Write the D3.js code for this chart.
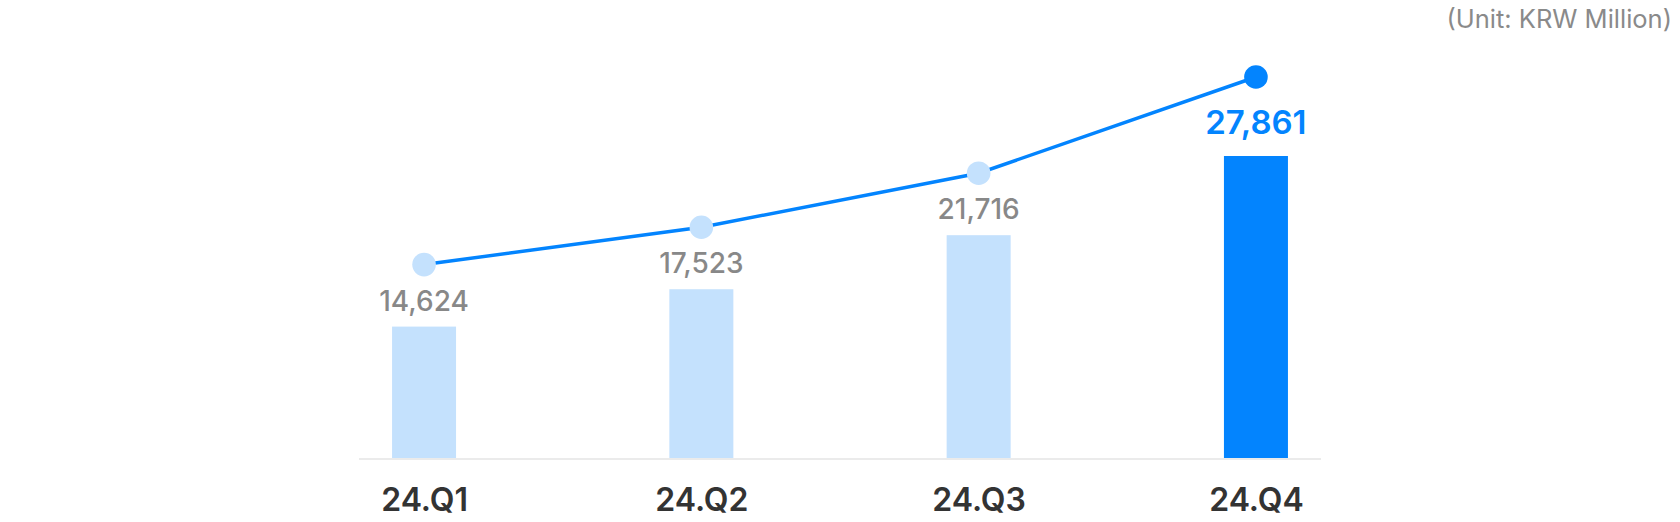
<!DOCTYPE html>
<html>
<head>
<meta charset="utf-8">
<script src="https://cdn.jsdelivr.net/npm/d3@7"></script>
<style>
  html, body { margin: 0; padding: 0; background: #fff; }
  svg { display: block; font-family: Inter, "Noto Sans", sans-serif; }
</style>
</head>
<body>
<svg id="chart" width="1680" height="522"></svg>
<script>
// Chart data
const quarters = ["24.Q1", "24.Q2", "24.Q3", "24.Q4"];
const values = [14624, 17523, 21716, 27861];
const highlight = ["24.Q4"];
const unitLabel = "(Unit: KRW Million)";

const LIGHT = "#c4e1fd";
const BLUE = "#0384fe";

let svg = d3.select("#chart");

// Scales
let x = d3.scalePoint()
  .domain(quarters)
  .range([360, 1320])
  .padding(0.231);

let y = d3.scaleLinear()
  .domain([4350, d3.max(values)])
  .range([459, 156]);

let barWidth = 64;
let data = quarters.map((q, i) => ({q: q, v: values[i], hi: highlight.includes(q)}));

// Bars
svg.append("g")
  .selectAll("rect")
  .data(data)
  .join("rect")
  .attr("x", d => x(d.q) - barWidth / 2)
  .attr("y", d => y(d.v))
  .attr("width", barWidth)
  .attr("height", d => y.range()[0] - y(d.v))
  .style("fill", d => d.hi ? BLUE : LIGHT);

// Baseline axis
let axis = svg.append("g")
  .attr("transform", `translate(0,${y.range()[0]})`)
  .call(d3.axisBottom(x).tickSize(0).tickPadding(29));

axis.select(".domain")
  .attr("d", "M359,0H1321")
  .style("stroke", "#ebebeb")
  .style("stroke-width", 2);

axis.selectAll("text")
  .style("font-size", "32px")
  .style("font-weight", 600)
  .style("fill", "#333")
  .style("font-family", "Inter, sans-serif");

// Value labels above bars
svg.append("g")
  .selectAll("text")
  .data(data)
  .join("text")
  .attr("x", d => x(d.q))
  .attr("y", d => y(d.v) - (d.hi ? 22 : 16))
  .attr("text-anchor", "middle")
  .style("font-size", d => d.hi ? "33px" : "28px")
  .style("font-weight", d => d.hi ? 600 : 500)
  .style("fill", d => d.hi ? BLUE : "#888")
  .text(d => d3.format(",")(d.v));

// Line sitting above the labels
let dotY = d => y(d.v) - (d.hi ? 79 : 62);

svg.append("path")
  .datum(data)
  .attr("d", d3.line().x(d => x(d.q)).y(dotY))
  .style("fill", "none")
  .style("stroke", BLUE)
  .style("stroke-width", 3.5);

svg.append("g")
  .selectAll("circle")
  .data(data)
  .join("circle")
  .attr("cx", d => x(d.q))
  .attr("cy", dotY)
  .attr("r", 11.8)
  .style("fill", d => d.hi ? BLUE : LIGHT);

// Unit note
svg.append("text")
  .attr("x", 1672)
  .attr("y", 28)
  .attr("text-anchor", "end")
  .style("font-size", "25.5px")
  .style("fill", "#8a8a8a")
  .text(unitLabel);
</script>
</body>
</html>
